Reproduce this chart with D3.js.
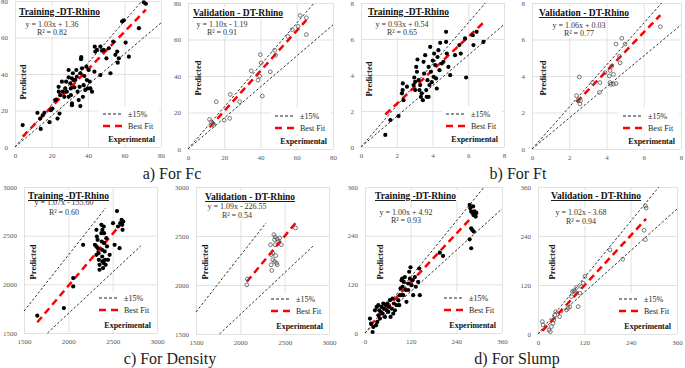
<!DOCTYPE html>
<html>
<head>
<meta charset="utf-8">
<script src="https://cdn.jsdelivr.net/npm/d3@7"></script>
<style>
  body { margin: 0; background: #fff; }
  svg { display: block; }
  text { font-family: "Liberation Serif", "Times New Roman", serif; }
</style>
</head>
<body>
<div id="chart"></div>
<script>
////////////////////////////////////////////////////////////////////////
// Data (experimental, predicted)

const fcTrain = [[4.2,12],[12.3,18.7],[13.8,15.6],[14.1,9.9],[15.2,17.4],[16.1,18.7],[18.9,13.6],[19.6,20.2],
  [20.5,21.1],[22,25.7],[22.6,26],[23.3,15.6],[24.4,18.3],[23.9,33],[24,30.3],[24.8,28.4],[25.7,35.8],[26.2,30.3],
  [27,27.5],[27.5,32.1],[28,35.8],[28.4,30.3],[29.4,38.2],[29.4,42.2],[30.3,34.9],[30.6,32.1],[30.6,28.4],[31.2,23.9],
  [31.2,37.6],[31.7,40.4],[32.1,36.7],[32.5,32.7],[33,36.7],[33.6,42.2],[33.9,38.5],[34.3,30.3],[34.9,25.7],[35.4,33],
  [35.8,40.4],[36.2,48.1],[36.3,49.2],[36.7,43.1],[37.2,27.5],[37.6,33.9],[38,38.9],[38.5,31.2],[39.1,44],[39.4,36.7],
  [39.8,32.1],[40.4,42.2],[40.9,35.8],[41.3,32.1],[42.2,30.3],[43.5,41.3],[44,52.3],[44.9,53.2],[46.8,55],[46.8,39.4],
  [48.6,53.2],[50.1,48.6],[51.4,54.1],[52.3,40.4],[53.8,57.8],[55,50.5],[56,52.3],[56.3,46.2],[56.9,48.6],[58.7,68.8],
  [59.6,69.4],[60.6,57.2],[62.4,49.5],[67.9,65.1],[70.6,79.3],[71.7,78.5],[43.7,55],[47.7,52.8],[35.8,22.4],[31.2,22.9],
  [29.4,27.5]];

const fcVal = [[11.9,16.2],[12.9,14.9],[13.8,14],[14.2,13.1],[15.6,25.9],[19.9,15.8],[23,16.8],[23.3,29.9],[28.5,25.9],
  [34.9,42.8],[38.6,37.7],[39.5,39.9],[39.9,51.7],[40.4,47.2],[41,29],[45.4,42.3],[47.8,54.1],[48.3,51.4],[55.1,61.7],
  [57.5,65.4],[60.7,67.2],[61.9,73.2],[65.3,71.9],[65.3,62.7]];

const ftTrain = [[1.36,0.67],[1.64,1.5],[2.1,1.72],[2.29,2.98],[2.33,3.16],[2.34,3.53],[2.38,2.6],[2.57,3.35],[2.94,3.44],
  [2.98,3.86],[3.03,3.62],[3.09,4.45],[3.13,4.18],[3.16,4.86],[3.22,3.71],[3.27,3.16],[3.31,3.44],[3.35,2.79],[3.4,2.98],
  [3.46,2.6],[3.5,4.73],[3.53,4.08],[3.59,5.1],[3.65,3.16],[3.68,2.79],[3.72,3.71],[3.78,4.45],[3.83,3.44],[3.87,5.56],
  [3.91,4.18],[3.96,3.6],[4.02,4.8],[4.06,3.9],[4.09,5.19],[4.15,4.55],[4.2,3.81],[4.24,3.25],[4.28,5],[4.33,5.38],
  [4.39,4.27],[4.43,5.79],[4.52,4.64],[4.61,4.73],[4.76,6.4],[4.76,5.84],[4.8,5.19],[4.89,4.45],[4.99,3.99],[5.26,5.1],
  [5.5,5.66],[5.58,5.19],[5.82,6.03],[5.88,3.86],[6.25,6.21],[6.29,5.66],[6.47,6.4],[6.85,5.84],[3.78,2.79],[3.03,3.16]];

const ftVal = [[2.39,2.92],[2.48,2.65],[2.54,3.95],[2.57,2.47],[2.61,2.65],[3.26,3.64],[3.62,3.1],[3.92,4.18],[4.15,4],
  [4.19,4.3],[4.28,4.54],[4.37,4.09],[4.24,3.55],[4.37,3.55],[4.51,3.59],[4.73,4.72],[4.69,5.08],[4.82,6.07],[4.51,5.75],
  [5,5.75],[6.89,6.7],[3.65,3.64],[4.19,3.64]];

const densTrain = [[1650,1678],[1950,1756],[2055,2064],[2055,1979],[2167,2406],[2300,2406],[2317,2560],[2322,2491],
  [2330,2457],[2333,2372],[2341,2320],[2344,2252],[2352,2200],[2352,2150],[2373,2611],[2373,2526],[2377,2440],[2380,2355],
  [2382,2286],[2384,2235],[2392,2167],[2400,2594],[2403,2526],[2404,2423],[2410,2338],[2414,2252],[2421,2200],[2429,2474],
  [2436,2389],[2447,2252],[2317,2303],[2317,2389],[2384,2560],[2399,2218],[2504,2628],[2522,2406],[2549,2753],[2560,2594],
  [2578,2372],[2586,2628],[2601,2662],[2608,2611],[2619,2645],[2612,2560],[2466,2303]];

const densVal = [[2080,2060],[2073,2002],[2347,2206],[2355,2148],[2366,2326],[2378,2514],[2385,2462],[2393,2411],
  [2400,2299],[2408,2224],[2416,2206],[2393,2490],[2416,2469],[2431,2445],[2443,2480],[2462,2411],[2340,2411],[2366,2258],
  [2622,2582],[2385,2240],[2347,2310]];

const slumpTrain = [[13,35.5],[15.7,23],[20,2.5],[21.8,14.9],[26.2,56],[29,19],[32.3,27.2],[35,43.8],[37.6,56],[39.3,35.5],
  [41,52],[43.7,64.4],[46.3,47.9],[48,72.7],[49.8,60.3],[52.4,39.6],[55,68.5],[56.8,56],[58.5,72.7],[61.1,52],[63.8,64.4],
  [65.5,81],[67.2,39.6],[69.9,60.3],[72.5,85],[74.2,47.9],[76,72.7],[78.6,56],[83,68.5],[87.3,81],[90,68.5],[91.7,93.3],
  [93.4,110],[96,130],[97.8,134],[98.7,114],[100.4,93.3],[102,126],[104.8,138],[107.4,106],[109,76.8],[113.5,122],
  [116,151],[118,134],[119.6,162],[122.3,118],[125,130],[126.6,93.3],[131,138],[133.6,114],[139.7,126],[142.4,159],
  [144,93.3],[113.5,106],[96,93.3],[30.6,64.4],[35,68.5],[196.5,198],[205,190],[275,316],[276.5,308],[279,300],[282,296],
  [284,312],[285.6,291],[288,300],[290.8,287],[279,258],[282,254],[285.6,250],[275,231],[279,209],[292.6,296]];

const slumpVal = [[11.3,30.3],[13,22],[28.6,9.8],[32,5.7],[34.7,18],[39,26.2],[40.8,34.4],[43.4,46.6],[46,54.8],[78,63],
  [82.4,67],[86.7,91.7],[89.3,104],[92.8,106],[95.4,104],[99.7,114],[104,67],[108.4,100],[112.7,116],[117,124],[121.4,141],
  [186.5,206],[219.4,183],[275,254],[278,231],[280,308.5],[278,314],[73.7,59],[56,42.6]];

// fitted lines and labels, one entry per panel
const slopes     = [1.03, 1.10, 0.93, 1.06, 1.07, 1.09, 1.00, 1.02];
const intercepts = [1.36, -1.19, 0.54, 0.03, -155.60, -226.55, 4.92, -3.68];
const eqLabels   = ["y = 1.03x + 1.36", "y = 1.10x - 1.19", "y = 0.93x + 0.54", "y = 1.06x + 0.03",
                    "y = 1.07x - 155.60", "y = 1.09x - 226.55", "y = 1.00x + 4.92", "y = 1.02x - 3.68"];
const r2Labels   = ["R² = 0.82", "R² = 0.91", "R² = 0.65", "R² = 0.77", "R² = 0.60", "R² = 0.54", "R² = 0.93", "R² = 0.94"];
const titles     = ["Training -DT-Rhino", "Validation - DT-Rhino", "Training -DT-Rhino", "Validation - DT-Rhino",
                    "Training -DT-Rhino", "Validation - DT-Rhino", "Training -DT-Rhino", "Validation - DT-Rhino"];

// axis ticks (same for x and y)
const fcTicks = [0, 20, 40, 60, 80];
const ftTicks = [0, 2, 4, 6, 8];
const densTicks = [1500, 2000, 2500, 3000];
const slumpTicks = [0, 120, 240, 360];

// x extent of the +15% and -15% guide lines
const upperEnd = [69.6, 69.6, 6.96, 6.96, 2420, 2290, 313, 313];
const lowerEnd = [80, 80, 8, 8, 2820, 2820, 360, 360];

const captions = ["a) For Fc", "b) For Ft", "c) For Density", "d) For Slump"];

////////////////////////////////////////////////////////////////////////
// Panel setup

const panels = [
  {pts: fcTrain,    open: false, ticks: fcTicks},
  {pts: fcVal,      open: true,  ticks: fcTicks},
  {pts: ftTrain,    open: false, ticks: ftTicks},
  {pts: ftVal,      open: true,  ticks: ftTicks},
  {pts: densTrain,  open: false, ticks: densTicks},
  {pts: densVal,    open: true,  ticks: densTicks},
  {pts: slumpTrain, open: false, ticks: slumpTicks},
  {pts: slumpVal,   open: true,  ticks: slumpTicks}
];

// pixel layout: plot box [left, top, right, bottom], title x/baseline, eq centre etc.
const layout = [
  {box: [15, 1, 161, 147],   tx: 19,  ty: 15,  ex: 52,  ey: 27,  ry: 35,  px: 23,  py: 82},
  {box: [188, 3, 333, 149],  tx: 193, ty: 16,  ex: 222, ey: 27,  ry: 35,  px: 198, py: 78},
  {box: [361, 3, 504, 147],  tx: 368, ty: 15,  ex: 402, ey: 27,  ry: 35,  px: 369, py: 79},
  {box: [532, 3, 681, 149],  tx: 539, ty: 16,  ex: 579, ey: 28,  ry: 36,  px: 543, py: 78},
  {box: [24, 187, 157, 333], tx: 28,  ty: 199, ex: 64,  ey: 205, ry: 215, px: 33,  py: 262},
  {box: [196, 187, 329, 334],tx: 205, ty: 200, ex: 237, ey: 209, ry: 218, px: 205, py: 262},
  {box: [365, 187, 502, 333],tx: 375, ty: 199, ex: 406, ey: 215, ry: 223, px: 380, py: 262},
  {box: [538, 187, 677, 334],tx: 551, ty: 199, ex: 581, ey: 215, ry: 224, px: 552, py: 262}
];

const capPos = [[172, 179], [518, 179], [170, 364], [517, 364]];

let svg = d3.select("#chart").append("svg")
  .attr("width", 685)
  .attr("height", 368);

const serif = '"Liberation Serif", "Times New Roman", serif';

panels.forEach(drawPanel);

// captions
svg.selectAll(".caption")
  .data(captions).enter()
  .append("text")
  .attr("class", "caption")
  .attr("x", (d, i) => capPos[i][0])
  .attr("y", (d, i) => capPos[i][1])
  .attr("text-anchor", "middle")
  .attr("font-size", "16px")
  .attr("fill", "#222")
  .text(d => d);

////////////////////////////////////////////////////////////////////////
// Draw one scatter panel

function drawPanel(p, i) {
  let L = layout[i];
  let [x0, y0, x1, y1] = L.box;
  let dom = [p.ticks[0], p.ticks[p.ticks.length - 1]];

  let x = d3.scaleLinear().domain(dom).range([x0, x1]);
  let y = d3.scaleLinear().domain(dom).range([y1, y0]);

  let g = svg.append("g");

  // gridlines + tick labels
  g.append("g").attr("transform", "translate(0," + y1 + ")")
    .call(d3.axisBottom(x).tickValues(p.ticks).tickFormat(d3.format("d"))
      .tickSize(-(y1 - y0)).tickPadding(6))
    .call(styleAxis);
  g.append("g").attr("transform", "translate(" + x0 + ",0)")
    .call(d3.axisLeft(y).tickValues(p.ticks).tickFormat(d3.format("d"))
      .tickSize(-(x1 - x0)).tickPadding(7))
    .call(styleAxis);

  // equation and R2 with white backing
  let eqG = g.append("g");
  let eq = eqG.append("text").attr("x", L.ex).attr("y", L.ey)
    .attr("text-anchor", "middle").attr("font-size", "8px").attr("fill", "#333")
    .text(eqLabels[i]);
  let r2 = eqG.append("text").attr("x", L.ex).attr("y", L.ry)
    .attr("text-anchor", "middle").attr("font-size", "8px").attr("fill", "#333")
    .text(r2Labels[i]);
  let b1 = eq.node().getBBox(), b2 = r2.node().getBBox();
  let bx = Math.min(b1.x, b2.x) - 1, bw = Math.max(b1.x + b1.width, b2.x + b2.width) - bx + 1;
  eqG.insert("rect", "text").attr("x", bx).attr("y", b1.y).attr("width", bw)
    .attr("height", b2.y + b2.height - b1.y).attr("fill", "#fff");

  // title with white backing (covers the equation in the density panels)
  let tG = g.append("g");
  let t = tG.append("text").attr("x", L.tx).attr("y", L.ty)
    .attr("font-size", "9.5px").attr("font-weight", "bold").attr("fill", "#111")
    .style("text-decoration", "underline")
    .text(titles[i]);
  let tb = t.node().getBBox();
  tG.insert("rect", "text").attr("x", tb.x - 2).attr("y", tb.y - 1)
    .attr("width", tb.width + 4).attr("height", tb.height + 1).attr("fill", "#fff");

  // Predicted label
  g.append("text")
    .attr("transform", "translate(" + (L.px + 3) + "," + L.py + ") rotate(-90)")
    .attr("text-anchor", "middle").attr("font-size", "8.5px").attr("font-weight", "bold")
    .attr("fill", "#111").text("Predicted");

  // legend box
  g.append("rect").attr("x", x1 - 62).attr("y", y1 - 41).attr("width", 60).attr("height", 26)
    .attr("fill", "#fff");
  let ly1 = i < 4 ? y1 - 33 : y1 - 35;
  let ly2 = ly1 + 12;
  g.append("line").attr("x1", x1 - 58).attr("x2", x1 - 38).attr("y1", ly1).attr("y2", ly1)
    .attr("stroke", "#222").attr("stroke-width", 1).attr("stroke-dasharray", "3,2");
  g.append("line").attr("x1", x1 - 58).attr("x2", x1 - 38).attr("y1", ly2).attr("y2", ly2)
    .attr("stroke", "#f00").attr("stroke-width", 2.5).attr("stroke-dasharray", "7,5");
  g.append("text").attr("x", x1 - 33).attr("y", ly1 + 3).attr("font-size", "8px").attr("fill", "#222").text("±15%");
  g.append("text").attr("x", x1 - 33).attr("y", ly2 + 3).attr("font-size", "8px").attr("fill", "#222").text("Best Fit");

  // Experimental label
  let eG = g.append("g");
  let ex = eG.append("text").attr("x", x1 - 6).attr("y", y1 - 5)
    .attr("text-anchor", "end").attr("font-size", "8px").attr("font-weight", "bold")
    .attr("fill", "#111").text("Experimental");
  let eb = ex.node().getBBox();
  eG.insert("rect", "text").attr("x", eb.x - 2).attr("y", eb.y - 1)
    .attr("width", eb.width + 4).attr("height", eb.height + 1).attr("fill", "#fff");

  // +/-15% guide lines
  let line = d3.line().x(d => x(d[0])).y(d => y(d[1]));
  let upStart = dom[0];
  let loStart = Math.max(dom[0], dom[0] / 0.85);
  let guides = [
    [[upStart, upStart * 1.15], [upperEnd[i], upperEnd[i] * 1.15]],
    [[loStart, loStart * 0.85], [lowerEnd[i], lowerEnd[i] * 0.85]]
  ];
  g.selectAll(".guide").data(guides).enter().append("path")
    .attr("class", "guide")
    .attr("d", line)
    .attr("fill", "none").attr("stroke", "#333").attr("stroke-width", 1)
    .attr("stroke-dasharray", "2.5,2");

  // best fit over the data range
  let ext = d3.extent(p.pts, d => d[0]);
  let fit = ext.map(v => [v, slopes[i] * v + intercepts[i]]);
  g.append("path").attr("d", line(fit))
    .attr("fill", "none").attr("stroke", "#f00").attr("stroke-width", 2.5)
    .attr("stroke-dasharray", "7,4.5");

  // points
  g.append("g").selectAll("circle")
    .data(p.pts).enter().append("circle")
    .attr("cx", d => x(d[0]))
    .attr("cy", d => y(d[1]))
    .attr("r", p.open ? 1.9 : 2.1)
    .attr("fill", p.open ? "none" : "#000")
    .attr("stroke", p.open ? "#555" : "none")
    .attr("stroke-width", 0.8);
}

function styleAxis(sel) {
  sel.select(".domain").remove();
  sel.attr("font-family", serif);
  sel.selectAll("line").attr("stroke", "#d9d9d9").attr("stroke-width", 0.8);
  sel.selectAll("text").attr("fill", "#595959").attr("font-size", "7px");
}
</script>
</body>
</html>
